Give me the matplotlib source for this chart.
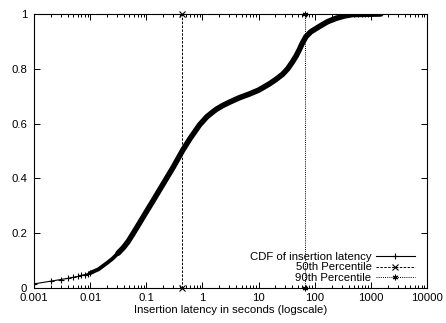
import matplotlib
matplotlib.use("Agg")
import matplotlib.pyplot as plt
import numpy as np
from matplotlib.lines import Line2D

plt.rcParams['font.family'] = ['Liberation Sans', 'DejaVu Sans']

# Insertion latency (seconds) and cumulative fraction
latency = [0.001, 0.002, 0.003, 0.004, 0.005, 0.006, 0.007, 0.008, 0.009, 0.01,
           0.014, 0.0196, 0.025, 0.0314, 0.039, 0.0473, 0.06, 0.0763, 0.1, 0.1316,
           0.17, 0.2275, 0.3, 0.449, 0.6, 0.887, 1.2, 1.5, 1.76, 2.3, 3.03, 4.5,
           6.87, 10, 15.6, 20, 26.8, 33, 40.4, 47, 53, 60, 69.7, 85, 120, 170,
           238, 340, 468, 1500]
cdf = [0.015, 0.025, 0.031, 0.035, 0.039, 0.042, 0.046, 0.049, 0.052, 0.055,
       0.068, 0.090, 0.107, 0.127, 0.147, 0.169, 0.203, 0.238, 0.278, 0.318,
       0.356, 0.399, 0.44, 0.504, 0.545, 0.595, 0.625, 0.641, 0.652, 0.666, 0.678, 0.694,
       0.708, 0.722, 0.745, 0.76, 0.780, 0.80, 0.826, 0.848, 0.869, 0.893, 0.917, 0.935,
       0.954, 0.972, 0.984, 0.993, 0.998, 1.0]

p50 = 0.44
p90 = 67
x_ticks = [0.001, 0.01, 0.1, 1, 10, 100, 1000, 10000]
x_tick_labels = ['0.001', '0.01', '0.1', '1', '10', '100', '1000', '10000']
y_ticks = [0, 0.2, 0.4, 0.6, 0.8, 1]
y_tick_labels = ['0', '0.2', '0.4', '0.6', '0.8', '1']

FS = 8.2

fig = plt.figure(figsize=(4.46, 3.23), dpi=100)
ax = fig.add_axes([34/446, 1 - 288/323, 393/446, 274/323])

lat = np.array(latency)
c = np.array(cdf)
sparse = lat <= 0.01
mid = (lat >= 0.01) & (lat <= 0.0314)
dense = lat >= 0.0314

# sparse millisecond samples: thin line with markers
ax.plot(lat[sparse], c[sparse], color='black', lw=0.8, marker='+', ms=4, mew=0.8)
ax.plot(lat[mid], c[mid], color='black', lw=2.8, solid_capstyle='round',
        solid_joinstyle='round')
ax.plot(lat[dense], c[dense], color='black', lw=4.0, solid_capstyle='round',
        solid_joinstyle='round')

ax.plot([p50, p50], [0, 1], color='black', lw=0.7, ls=(0, (2.5, 1.5)),
        marker='x', ms=4, mew=0.8, clip_on=False)
ax.plot([p90, p90], [0, 1], color='black', lw=0.7, ls=(0, (1, 1.2)),
        marker=(6, 2, 0), ms=4, mew=0.8, clip_on=False)

ax.set_xscale('log')
ax.set_xlim(0.001, 10000)
ax.set_ylim(0, 1)
ax.set_xticks(x_ticks)
ax.set_xticklabels(x_tick_labels)
ax.set_yticks(y_ticks)
ax.set_yticklabels(y_tick_labels)
ax.xaxis.set_minor_locator(matplotlib.ticker.LogLocator(base=10, subs=np.arange(2, 10)))
ax.xaxis.set_minor_formatter(matplotlib.ticker.NullFormatter())
ax.tick_params(which='both', direction='in', top=True, right=True, labelsize=FS,
               colors='black', width=0.7)
ax.tick_params(axis='y', which='major', length=4, pad=5)
ax.tick_params(axis='x', which='major', length=4, pad=3.5)
ax.tick_params(axis='x', which='minor', length=2)
for s in ax.spines.values():
    s.set_linewidth(0.8)
    s.set_color('black')

ax.set_xlabel('Insertion latency in seconds (logscale)', fontsize=FS, labelpad=1.5)

handles = [
    Line2D([], [], color='black', lw=0.8, marker='+', ms=4, mew=0.8),
    Line2D([], [], color='black', lw=0.7, ls=(0, (2.5, 1.5)), marker='x', ms=4, mew=0.8),
    Line2D([], [], color='black', lw=0.7, ls=(0, (1, 1.2)), marker=(6, 2, 0), ms=4, mew=0.8),
]
labels = ['CDF of insertion latency', '50th Percentile', '90th Percentile']
ax.legend(handles, labels, loc='lower right', bbox_to_anchor=(0.969, 0.018),
          markerfirst=False, frameon=False, fontsize=FS, handlelength=3.4,
          handletextpad=0.4, labelspacing=0.05, borderpad=0, borderaxespad=0,
          numpoints=1)

fig.savefig('out.png', dpi=100)
